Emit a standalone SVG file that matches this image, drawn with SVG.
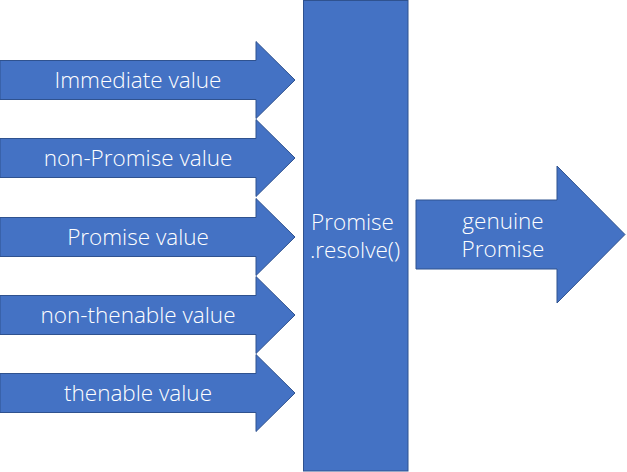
<svg xmlns="http://www.w3.org/2000/svg" width="627" height="472" viewBox="0 0 627 472">
<style>
.shape{fill:#4472C4;stroke:#2F528F;stroke-width:1}
.lbl{fill:#FFFFFF;font-family:"Open Sans","Noto Sans","Liberation Sans",sans-serif;font-size:22.5px;font-weight:300;text-anchor:middle}
</style>
<rect width="627" height="472" fill="#FFFFFF"/>
<g id="connectors"></g>
<g id="in-immediate">
<path class="shape" d="M0,60.5 H256 V41.5 L295,80 L256,118.5 V99.5 H0 Z"/>
<text class="lbl" x="138" y="88">Immediate value</text>
</g>
<g id="in-non-promise">
<path class="shape" d="M0,138.5 H256 V119.5 L295,158 L256,196.5 V177.5 H0 Z"/>
<text class="lbl" x="138" y="166">non-Promise value</text>
</g>
<g id="in-promise">
<path class="shape" d="M0,217.5 H256 V198.5 L295,237 L256,275.5 V256.5 H0 Z"/>
<text class="lbl" x="138" y="245">Promise value</text>
</g>
<g id="in-non-thenable">
<path class="shape" d="M0,295.5 H256 V276.5 L295,315 L256,353.5 V334.5 H0 Z"/>
<text class="lbl" x="138" y="323">non-thenable value</text>
</g>
<g id="in-thenable">
<path class="shape" d="M0,373.5 H256 V354.5 L295,393 L256,431.5 V412.5 H0 Z"/>
<text class="lbl" x="138" y="401">thenable value</text>
</g>
<g id="resolve">
<rect class="shape" x="303.5" y="0.5" width="104.5" height="470.5"/>
<text class="lbl" x="352.5" y="230">Promise</text>
<text class="lbl" x="355" y="258">.resolve()</text>
</g>
<g id="out-genuine">
<path class="shape" d="M416,200 H557 V166 L625,234.5 L557,303 V269 H416 Z"/>
<text class="lbl" x="503" y="229">genuine</text>
<text class="lbl" x="503" y="257">Promise</text>
</g>
</svg>
